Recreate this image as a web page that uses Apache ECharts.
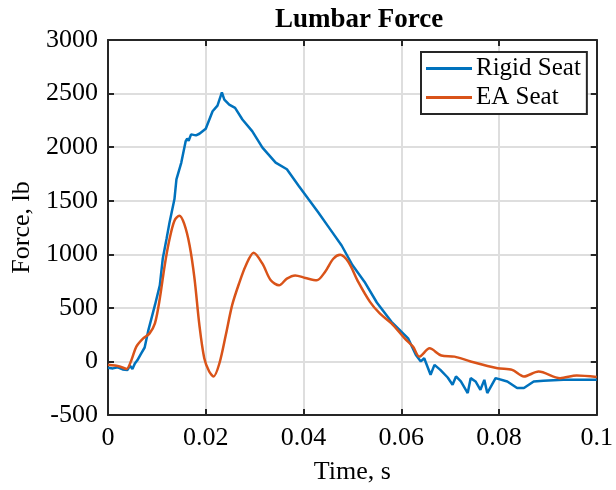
<!DOCTYPE html>
<html>
<head>
<meta charset="utf-8">
<script src="https://cdn.jsdelivr.net/npm/echarts@6/dist/echarts.min.js"></script>
<style>
html,body{margin:0;padding:0;background:#fff;}
#c{width:616px;height:490px;}
</style>
</head>
<body>
<div id="c"></div>
<script>
const titleText = 'Lumbar Force';
const xName = 'Time, s';
const yName = 'Force, lb';
const seriesNames = ['Rigid Seat', 'EA Seat'];
const xTicks = [0, 0.02, 0.04, 0.06, 0.08, 0.1];
const yTicks = [-500, 0, 500, 1000, 1500, 2000, 2500, 3000];

const rigidT = [0,0.001,0.002,0.003,0.004,0.0045,0.005,0.0055,0.006,0.0068,0.0075,0.0082,0.009,0.0096,0.0106,0.0112,0.012,0.0126,0.0136,0.014,0.015,0.0159,0.0162,0.0165,0.017,0.018,0.0187,0.020,0.0214,0.0224,0.0233,0.0238,0.0248,0.026,0.0275,0.0295,0.0316,0.0343,0.0366,0.039,0.041,0.043,0.0454,0.0478,0.050,0.0525,0.055,0.058,0.0614,0.063,0.064,0.0647,0.066,0.0668,0.068,0.0695,0.0705,0.0712,0.0722,0.0736,0.0742,0.0752,0.0762,0.077,0.0776,0.0793,0.0817,0.0837,0.0851,0.0871,0.0891,0.0932,0.1];
const rigidF = [-60,-65,-55,-75,-80,-40,-70,-20,10,75,130,280,420,525,710,958,1150,1300,1515,1700,1856,2057,2080,2060,2119,2110,2125,2172,2335,2388,2512,2444,2397,2367,2258,2150,1995,1856,1794,1640,1515,1392,1237,1082,900,742,550,370,215,60,0,30,-125,-32,-79,-150,-218,-140,-187,-295,-156,-187,-265,-172,-295,-156,-187,-248,-248,-187,-181,-172,-172];

const eaT = [0,0.0024,0.0038,0.0048,0.0058,0.0072,0.0085,0.0096,0.0106,0.0116,0.0126,0.0136,0.0146,0.0156,0.0167,0.0177,0.0187,0.0197,0.0207,0.0216,0.0228,0.0241,0.0254,0.0268,0.0282,0.0298,0.0316,0.0333,0.035,0.0366,0.0383,0.0404,0.0427,0.0444,0.0461,0.0475,0.0492,0.0512,0.0536,0.0556,0.058,0.0607,0.0624,0.0637,0.0658,0.0682,0.0709,0.0742,0.0797,0.0827,0.0851,0.0881,0.0925,0.0959,0.1];
const eaF = [-32,-47,-70,14,138,215,262,355,587,896,1144,1314,1360,1283,1082,773,339,30,-94,-140,-17,246,525,726,896,1014,912,757,710,773,803,779,757,835,958,995,927,742,556,448,355,215,138,45,122,55,45,0,-63,-79,-140,-94,-156,-131,-145];

const FONT = 'Liberation Serif';
const AX = '#262626';
const chart = echarts.init(document.getElementById('c'), null, {renderer:'canvas'});

function pairs(t, f){ return t.map((v,i)=>[v,f[i]]); }
function fmtX(v){ return String(+v.toFixed(2)); }
function fmtY(v){ return String(Math.round(v)); }

const baseAxis = {
  axisLine:{show:true, onZero:false, lineStyle:{color:AX, width:2}},
  axisTick:{show:true, inside:true, length:6, lineStyle:{color:AX, width:2}},
};

chart.setOption({
  animation:false,
  backgroundColor:'#fff',
  title:{text:titleText, left:354, top:2, textAlign:'center',
    textStyle:{fontFamily:FONT, fontWeight:'bold', fontSize:27, color:'#000'}},
  grid:{left:108, top:40, right:16, bottom:73, containLabel:false},
  legend:{
    data:seriesNames, orient:'vertical', left:421, top:52,
    backgroundColor:'#fff', borderColor:AX, borderWidth:2, borderRadius:0,
    padding:[4,6,4,5], itemGap:4, itemWidth:46, itemHeight:3,
    icon:'rect',
    textStyle:{fontFamily:FONT, fontSize:25, color:'#000', padding:[0,0,0,-1]}
  },
  xAxis:[
    Object.assign({}, baseAxis, {
      type:'value', min:0, max:0.1, interval:0.02, position:'bottom',
      name:xName, nameLocation:'middle', nameGap:44,
      nameTextStyle:{fontFamily:FONT, fontSize:26, color:'#000'},
      axisLabel:{fontFamily:FONT, fontSize:26, color:'#000', margin:10, formatter:fmtX},
      splitLine:{show:true, lineStyle:{color:'#dedede', width:2}}
    }),
    Object.assign({}, baseAxis, {
      type:'value', min:0, max:0.1, interval:0.02, position:'top',
      axisLabel:{show:false}, splitLine:{show:false}
    })
  ],
  yAxis:[
    Object.assign({}, baseAxis, {
      type:'value', min:-500, max:3000, interval:500, position:'left',
      name:yName, nameLocation:'middle', nameGap:66,
      nameTextStyle:{fontFamily:FONT, fontSize:26, color:'#000'},
      axisLabel:{fontFamily:FONT, fontSize:26, color:'#000', margin:10, formatter:fmtY},
      splitLine:{show:true, lineStyle:{color:'#dedede', width:2}}
    }),
    Object.assign({}, baseAxis, {
      type:'value', min:-500, max:3000, interval:500, position:'right',
      axisLabel:{show:false}, splitLine:{show:false}
    })
  ],
  series:[
    {name:seriesNames[0], type:'line', data:pairs(rigidT, rigidF), showSymbol:false,
     lineStyle:{color:'#0072BD', width:2.5}, itemStyle:{color:'#0072BD'}, z:3},
    {name:seriesNames[1], type:'line', data:pairs(eaT, eaF), showSymbol:false, smooth:0.3,
     lineStyle:{color:'#D95319', width:2.5}, itemStyle:{color:'#D95319'}, z:4}
  ]
});
</script>
</body>
</html>
